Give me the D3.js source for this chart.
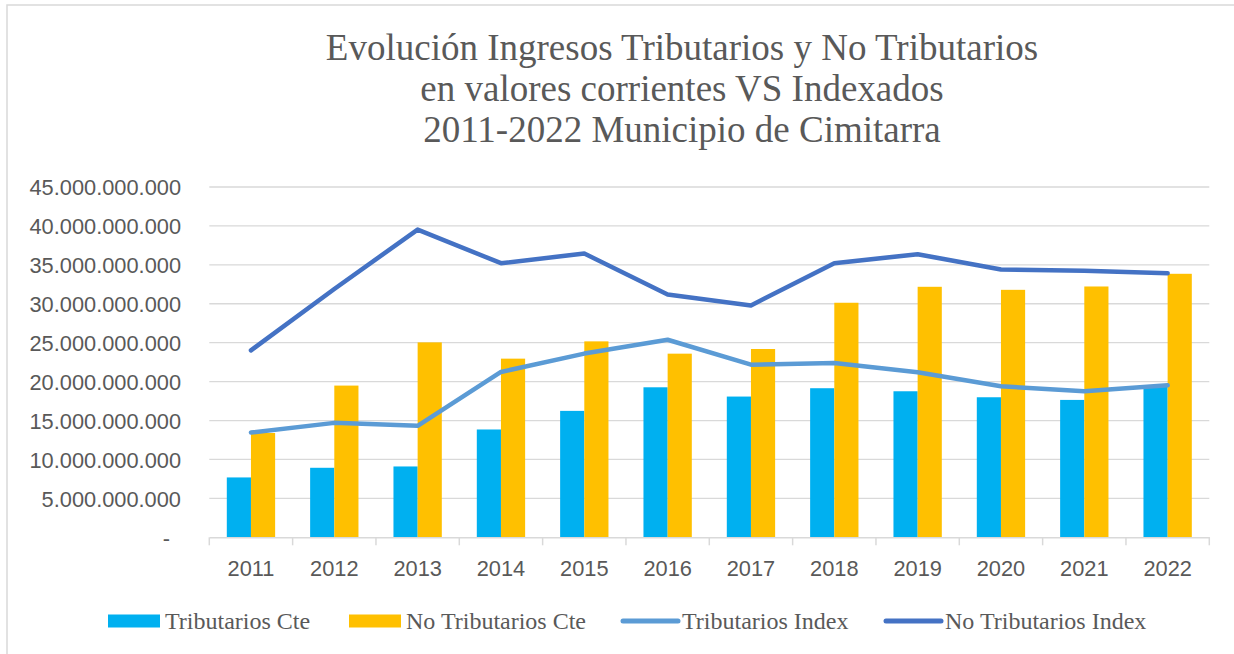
<!DOCTYPE html>
<html>
<head>
<meta charset="utf-8">
<script src="https://cdn.jsdelivr.net/npm/d3@7/dist/d3.min.js"></script>
<style>
  html, body { margin: 0; padding: 0; background: #fff; }
  svg { display: block; }
</style>
</head>
<body>
<svg id="chart" width="1234" height="654"></svg>
<script>
// ---- Data ----
const years = ["2011","2012","2013","2014","2015","2016","2017","2018","2019","2020","2021","2022"];
const tributariosCte   = [7.69e9, 8.93e9, 9.10e9, 13.85e9, 16.24e9, 19.27e9, 18.08e9, 19.15e9, 18.76e9, 17.99e9, 17.65e9, 19.40e9];
const noTributariosCte = [13.40e9, 19.49e9, 25.04e9, 22.95e9, 25.17e9, 23.59e9, 24.19e9, 30.13e9, 32.18e9, 31.79e9, 32.22e9, 33.85e9];
const tributariosIndex   = [13.46e9, 14.70e9, 14.32e9, 21.24e9, 23.60e9, 25.38e9, 22.18e9, 22.39e9, 21.20e9, 19.40e9, 18.76e9, 19.53e9];
const noTributariosIndex = [24.02e9, 31.90e9, 39.53e9, 35.21e9, 36.45e9, 31.20e9, 29.79e9, 35.21e9, 36.37e9, 34.40e9, 34.23e9, 33.93e9];
const yTicks = [0, 5e9, 10e9, 15e9, 20e9, 25e9, 30e9, 35e9, 40e9, 45e9];
const titleLines = ["Evolución Ingresos Tributarios y No Tributarios", "en valores corrientes VS Indexados", "2011-2022 Municipio de Cimitarra"];
const legendItems = [
  {name: "Tributarios Cte", type: "bar", color: "#00B0F0"},
  {name: "No Tributarios Cte", type: "bar", color: "#FFC000"},
  {name: "Tributarios Index", type: "line", color: "#5B9BD5"},
  {name: "No Tributarios Index", type: "line", color: "#4472C4"}
];

// ---- Layout ----
const svg = d3.select("#chart");
const plot = {left: 209.3, right: 1209.3, top: 187, bottom: 537.3};
const gray = "#595959";
const gridColor = "#d9d9d9";
const sans = "'Liberation Sans', Arial, sans-serif";
const serif = "'Liberation Serif', 'Times New Roman', serif";

// chart border (clipped at right/bottom as in reference)
svg.append("rect").attr("x", 7).attr("y", 5).attr("width", 1300).attr("height", 700)
  .attr("fill", "none").attr("stroke", gridColor).attr("stroke-width", 1.5);

const locale = d3.formatLocale({decimal: ",", thousands: ".", grouping: [3], currency: ["", ""]});
const fmt = locale.format(",.0f");

const x = d3.scaleBand().domain(years).range([plot.left, plot.right]).paddingInner(0.42).paddingOuter(0.21);
const xOuter = d3.scaleBand().domain(years).range([plot.left, plot.right]).padding(0);
const xSub = d3.scaleBand().domain(["t","n"]).range([0, x.bandwidth()]).padding(0);
const y = d3.scaleLinear().domain([0, 45e9]).range([plot.bottom, plot.top]);

// gridlines
svg.append("g").selectAll("line").data(yTicks.filter(d => d > 0)).join("line")
  .attr("x1", plot.left).attr("x2", plot.right)
  .attr("y1", d => y(d)).attr("y2", d => y(d))
  .attr("stroke", gridColor).attr("stroke-width", 1.3);

// y axis labels
const yAxis = d3.axisLeft(y).tickValues(yTicks).tickSize(0).tickPadding(0)
  .tickFormat(d => d === 0 ? "-" : fmt(d));
const yg = svg.append("g").attr("transform", `translate(${181},0)`).call(yAxis);
yg.select(".domain").remove();
yg.selectAll("text").attr("fill", gray).style("font-family", sans)
  .style("font-size", "21.8px").attr("dy", "0.36em")
  .attr("x", d => d === 0 ? -11 : 0);

// bars
const groups = svg.append("g").selectAll("g").data(years).join("g")
  .attr("transform", d => `translate(${x(d)},0)`);
groups.append("rect")
  .attr("x", xSub("t")).attr("width", xSub.bandwidth())
  .attr("y", (d, i) => y(tributariosCte[i]))
  .attr("height", (d, i) => y(0) - y(tributariosCte[i]))
  .attr("fill", "#00B0F0");
groups.append("rect")
  .attr("x", xSub("n")).attr("width", xSub.bandwidth())
  .attr("y", (d, i) => y(noTributariosCte[i]))
  .attr("height", (d, i) => y(0) - y(noTributariosCte[i]))
  .attr("fill", "#FFC000");

// x axis
const xAxis = d3.axisBottom(xOuter).tickSize(0).tickPadding(0);
const xg = svg.append("g").attr("transform", `translate(0,${plot.bottom})`).call(xAxis);
xg.select(".domain").attr("stroke", gridColor).attr("stroke-width", 1.5);
xg.selectAll("text").attr("fill", gray).style("font-family", sans)
  .style("font-size", "21.8px").attr("y", 23);
// category boundary ticks
const bounds = years.map(d => xOuter(d)).concat([plot.right]);
svg.append("g").selectAll("line").data(bounds).join("line")
  .attr("x1", d => d).attr("x2", d => d)
  .attr("y1", plot.bottom).attr("y2", plot.bottom + 8)
  .attr("stroke", gridColor).attr("stroke-width", 1.5);

// lines
const cx = d => xOuter(d) + xOuter.bandwidth() / 2;
const lineGen = vals => d3.line().x((d) => cx(d)).y((d, i) => y(vals[i]))(years);
svg.append("path").attr("d", lineGen(tributariosIndex))
  .attr("fill", "none").attr("stroke", "#5B9BD5").attr("stroke-width", 4.5)
  .attr("stroke-linecap", "round").attr("stroke-linejoin", "round");
svg.append("path").attr("d", lineGen(noTributariosIndex))
  .attr("fill", "none").attr("stroke", "#4472C4").attr("stroke-width", 4.5)
  .attr("stroke-linecap", "round").attr("stroke-linejoin", "round");

// title
svg.append("text").attr("x", 682).attr("y", 60)
  .attr("text-anchor", "middle").attr("fill", gray)
  .style("font-family", serif).style("font-size", "37px")
  .selectAll("tspan").data(titleLines).join("tspan")
  .attr("x", 682).attr("y", (d, i) => 60 + i * 40.8).text(d => d);

// legend
const legendX = [108, 349, 621, 884];
const lg = svg.append("g").selectAll("g").data(legendItems).join("g")
  .attr("transform", (d, i) => `translate(${legendX[i]},621)`);
lg.each(function(d) {
  const g = d3.select(this);
  let tx;
  if (d.type === "bar") {
    g.append("rect").attr("x", 0).attr("y", -6.5).attr("width", 52).attr("height", 13).attr("fill", d.color);
    tx = 57;
  } else {
    g.append("line").attr("x1", 2).attr("x2", 57).attr("y1", 0).attr("y2", 0)
      .attr("stroke", d.color).attr("stroke-width", 5).attr("stroke-linecap", "round");
    tx = 61;
  }
  g.append("text").attr("x", tx).attr("y", 8).attr("fill", gray)
    .style("font-family", serif).style("font-size", "24px")
    .text(d.name);
});
</script>
</body>
</html>
